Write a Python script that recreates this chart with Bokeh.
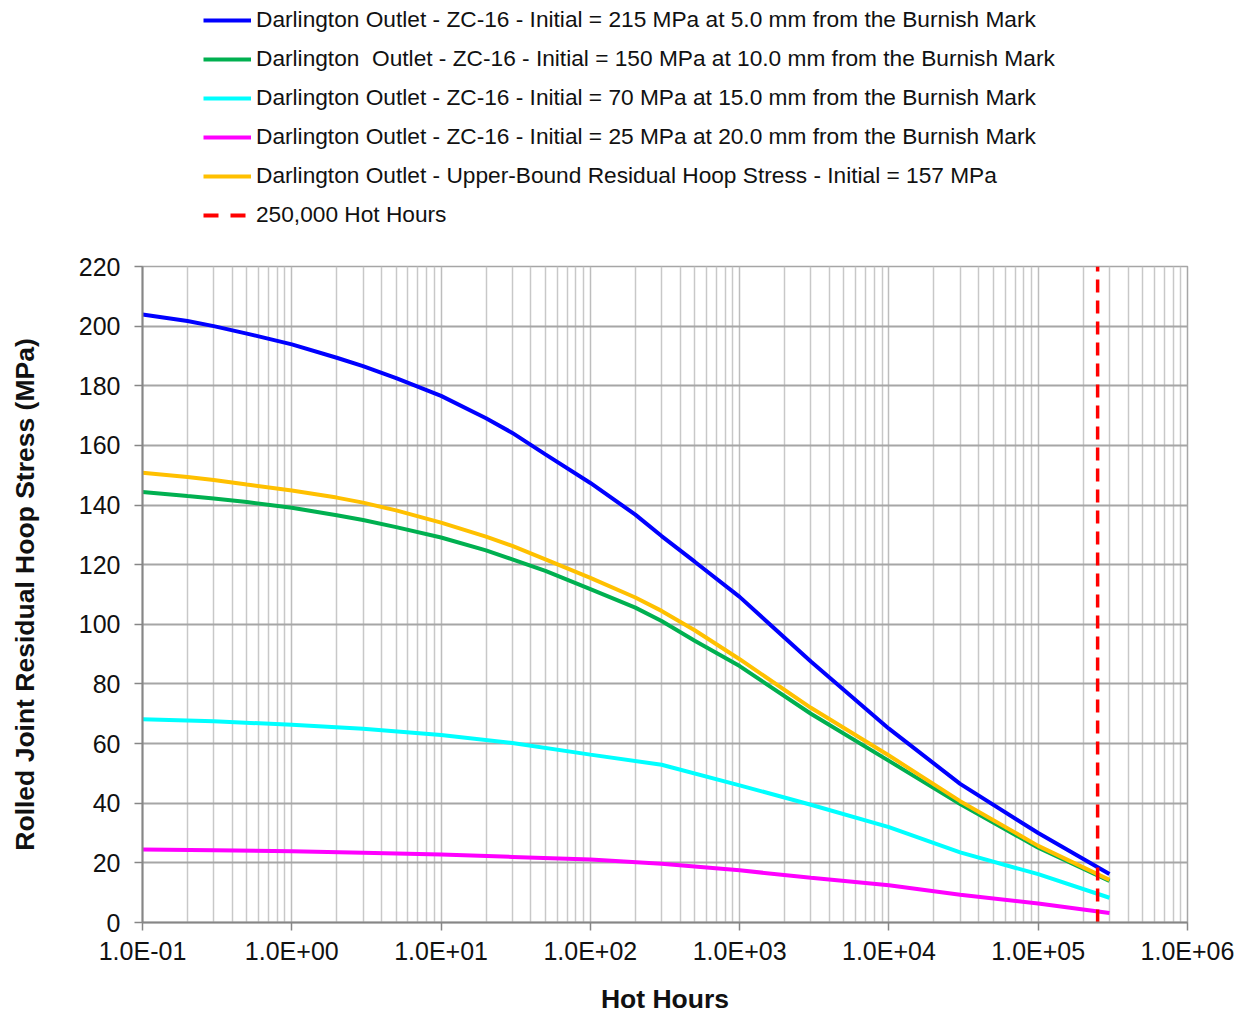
from bokeh.plotting import figure
from bokeh.layouts import column
from bokeh.models import (Legend, LegendItem, FixedTicker, CustomJSTickFormatter, Range1d)
from bokeh.embed import file_html
from bokeh.resources import INLINE

# ---- data ----
hours_fine = [0.1, 0.2, 0.3, 0.5, 1, 2, 3, 5, 10, 20, 30, 50, 100, 200, 300, 500,
              1000, 3000, 1e4, 3e4, 1e5, 3e5]
s215 = [203.9, 201.7, 200, 197.5, 193.9, 189.4, 186.6, 182.6, 176.6, 169.1, 164.2, 157,
        147.4, 136.8, 129.6, 121, 109.2, 87.5, 65, 46.5, 30, 16.3]
s157 = [150.8, 149.4, 148.4, 146.9, 144.9, 142.5, 140.8, 138.2, 134.1, 129.4, 126.3, 121.8,
        115.6, 109, 104.5, 98, 88.3, 72, 56, 40.7, 25.7, 14.3]
s150 = [144.4, 143, 142.2, 141, 139.1, 136.6, 135, 132.6, 129.1, 124.8, 121.8, 117.9,
        111.8, 105.6, 101.1, 94.5, 86, 70, 54.2, 39.7, 25.1, 13.9]
hours_coarse = [0.1, 0.3, 1, 3, 10, 30, 100, 300, 1000, 3000, 1e4, 3e4, 1e5, 3e5]
s70 = [68.2, 67.5, 66.3, 65, 62.9, 60.2, 56.3, 52.9, 46, 39.5, 32, 23.5, 16.2, 8.3]
s25 = [24.5, 24.2, 23.9, 23.4, 22.8, 22, 21.1, 19.7, 17.5, 15, 12.5, 9.3, 6.4, 3.2]
limit_hours = [250000, 250000]
limit_stress = [0, 220]

labels = [
    "Darlington Outlet - ZC-16 - Initial = 215 MPa at 5.0 mm from the Burnish Mark",
    "Darlington  Outlet - ZC-16 - Initial = 150 MPa at 10.0 mm from the Burnish Mark",
    "Darlington Outlet - ZC-16 - Initial = 70 MPa at 15.0 mm from the Burnish Mark",
    "Darlington Outlet - ZC-16 - Initial = 25 MPa at 20.0 mm from the Burnish Mark",
    "Darlington Outlet - Upper-Bound Residual Hoop Stress - Initial = 157 MPa",
    "250,000 Hot Hours",
]
x_ticks = [0.1, 1, 10, 100, 1000, 1e4, 1e5, 1e6]
y_ticks = [0, 20, 40, 60, 80, 100, 120, 140, 160, 180, 200, 220]

FONT = "Liberation Sans"
W = 1240
LEG_H = 248
MAIN_H = 768

p = figure(width=W, height=MAIN_H, x_axis_type="log",
           x_range=Range1d(0.1, 1e6), y_range=Range1d(0, 220),
           output_backend="svg", toolbar_location=None,
           min_border_left=142, min_border_right=53,
           min_border_top=18, min_border_bottom=94)
p.background_fill_color = "white"
p.outline_line_color = "#A6A6A6"
p.outline_line_width = 1.5

minor = [m * d for d in x_ticks[:-1] for m in range(2, 10)]
p.xaxis.ticker = FixedTicker(ticks=x_ticks, minor_ticks=minor)
p.yaxis.ticker = FixedTicker(ticks=y_ticks)

p.xaxis.formatter = CustomJSTickFormatter(code="""
const e = Math.round(Math.log10(tick));
const m = tick / Math.pow(10, e);
const a = Math.abs(e);
return m.toFixed(1) + 'E' + (e < 0 ? '-' : '+') + (a < 10 ? '0' : '') + a;
""")

for ax in (p.xaxis, p.yaxis):
    ax.axis_line_color = "#868686"
    ax.axis_line_width = 2
    ax.major_tick_line_color = "#868686"
    ax.major_tick_line_width = 1.5
    ax.major_tick_out = 8
    ax.major_tick_in = 0
    ax.minor_tick_out = 0
    ax.minor_tick_in = 0
    ax.major_label_text_font = FONT
    ax.major_label_text_font_size = "25px"
    ax.major_label_text_color = "#111111"
    ax.axis_label_text_font = FONT
    ax.axis_label_text_font_size = "26.5px"
    ax.axis_label_text_font_style = "bold"
    ax.axis_label_text_color = "#111111"

p.xaxis.axis_label = "Hot Hours"
p.yaxis.axis_label = "Rolled Joint Residual Hoop Stress (MPa)"
p.xaxis.major_label_standoff = 6
p.yaxis.major_label_standoff = 14
p.xaxis.axis_label_standoff = 16
p.yaxis.axis_label_standoff = 36

p.ygrid.grid_line_color = "#A6A6A6"
p.ygrid.grid_line_width = 1.8
p.xgrid.grid_line_color = "#BDBDBD"
p.xgrid.grid_line_width = 1.5
p.xgrid.minor_grid_line_color = "#C8C8C8"
p.xgrid.minor_grid_line_width = 1.5

colors = {"215": "#0000FF", "150": "#00B050", "70": "#00FFFF", "25": "#FF00FF", "157": "#FFC000"}

p.line(hours_fine, s215, line_color=colors["215"], line_width=4)
p.line(hours_fine, s150, line_color=colors["150"], line_width=4)
p.line(hours_coarse, s70, line_color=colors["70"], line_width=4)
p.line(hours_coarse, s25, line_color=colors["25"], line_width=4)
p.line(hours_fine, s157, line_color=colors["157"], line_width=4)
p.line(limit_hours, limit_stress, line_color="#FF0000", line_width=3.5, line_dash="13 8")

# ---- legend panel above the chart ----
lg = figure(width=W, height=LEG_H, x_range=Range1d(0, 1), y_range=Range1d(0, 1),
            output_backend="svg", toolbar_location=None,
            x_axis_location=None, y_axis_location=None,
            min_border=0, min_border_left=0, min_border_right=0,
            min_border_top=0, min_border_bottom=0)
lg.grid.visible = False
lg.outline_line_color = None
# legend-only renderers, drawn outside the visible range
off = [2, 3]
leg_renderers = []
for key in ["215", "150", "70", "25", "157"]:
    leg_renderers.append(lg.line(off, off, line_color=colors[key], line_width=4))
leg_renderers.append(lg.line(off, off, line_color="#FF0000", line_width=4, line_dash="15 12"))

legend = Legend(items=[LegendItem(label=l, renderers=[r]) for l, r in zip(labels, leg_renderers)],
                location=(61, 20))
legend.label_text_font = FONT
legend.label_text_font_size = "22.7px"
legend.label_text_color = "#111111"
legend.glyph_width = 48
legend.glyph_height = 22
legend.label_standoff = 5
legend.spacing = 12
legend.padding = 0
legend.margin = 0
legend.border_line_alpha = 0
legend.background_fill_alpha = 0
lg.add_layout(legend, "center")

layout = column(lg, p, spacing=0)
open("out.html", "w").write(file_html(layout, INLINE))
